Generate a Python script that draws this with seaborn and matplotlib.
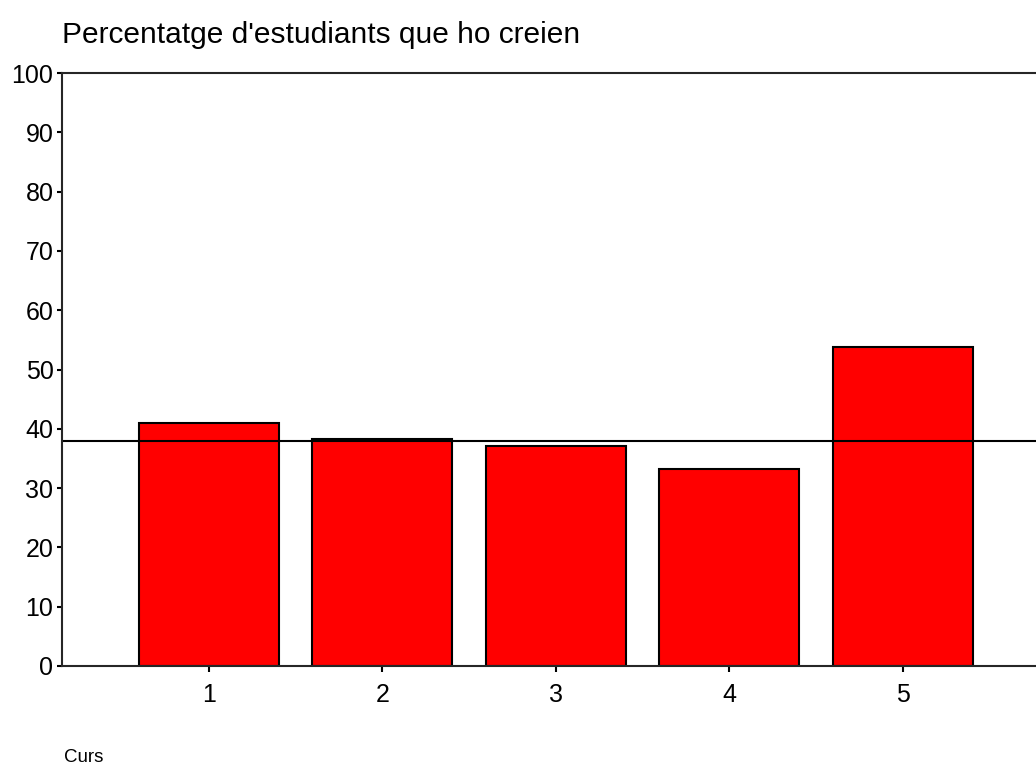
import matplotlib.pyplot as plt
import seaborn as sns
import pandas as pd

cursos = ['1', '2', '3', '4', '5']
percentatge = [40.9, 38.3, 37.1, 33.2, 53.8]
mitjana = 37.9

sns.set_style("ticks")
plt.rcParams['font.family'] = ['Liberation Sans', 'DejaVu Sans']
plt.rcParams['text.color'] = 'black'
plt.rcParams['xtick.color'] = 'black'
plt.rcParams['ytick.color'] = 'black'

df = pd.DataFrame({'curs': cursos, 'pct': percentatge})

fig = plt.figure(figsize=(10.36, 7.67), dpi=100)
ax = fig.add_axes([0.0598, 0.1317, 0.9536, 0.7731])
sns.barplot(data=df, x='curs', y='pct', color='#ff0000', saturation=1,
            width=0.807, edgecolor='black', linewidth=1.5, ax=ax)
ax.axhline(mitjana, color='black', lw=1.5)

ax.set_xlim(-0.847, 4.847)
ax.set_ylim(0, 100)
ax.set_yticks(range(0, 101, 10))
ax.tick_params(axis='y', labelsize=18, length=3.6, width=1.5, pad=2.5)
ax.tick_params(axis='x', labelsize=18, length=4.5, width=1.5, pad=7.5)
ax.set_xlabel('')
ax.set_ylabel('')
for s in ax.spines.values():
    s.set_linewidth(1.5)
ax.spines['right'].set_visible(False)

fig.text(0.0598, 0.955, "Percentatge d'estudiants que ho creien", fontsize=21.5, va='center')
fig.text(0.062, 0.012, 'Curs', fontsize=13.5, va='center')

fig.savefig('out.png', dpi=100)
